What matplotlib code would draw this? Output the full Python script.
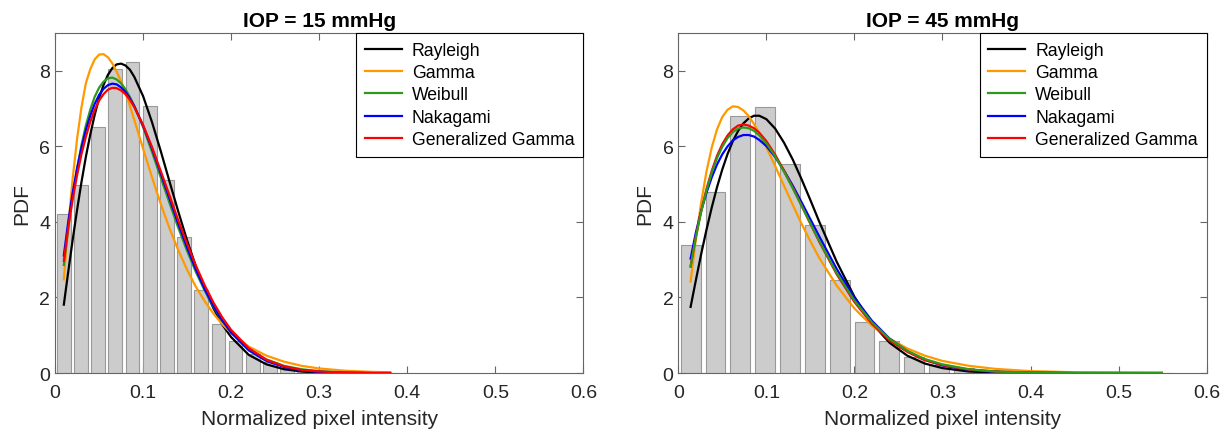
import numpy as np
import matplotlib
matplotlib.use("Agg")
import matplotlib.pyplot as plt

plt.rcParams['font.family'] = ['Liberation Sans', 'DejaVu Sans']

# ---------------- data ----------------
names = ['Rayleigh', 'Gamma', 'Weibull', 'Nakagami', 'Generalized Gamma']
titles = ['IOP = 15 mmHg', 'IOP = 45 mmHg']

# histogram bin centres and heights (PDF)
bin_width_15 = 0.0195
bin_centers_15 = [0.010, 0.0295, 0.049, 0.0685, 0.088, 0.1075, 0.127, 0.1465, 0.166, 0.1855,
                  0.205, 0.2245, 0.244, 0.2635, 0.283, 0.3025, 0.322, 0.3415, 0.361, 0.3805]
hist_15 = [4.20, 4.99, 6.52, 8.06, 8.24, 7.06, 5.10, 3.60, 2.20, 1.29,
           0.84, 0.50, 0.28, 0.13, 0.07, 0.04, 0.02, 0.01, 0.01, 0.005]

bin_width_45 = 0.0282
bin_centers_45 = [0.014, 0.0422, 0.0704, 0.0986, 0.1268, 0.155, 0.1832, 0.2114, 0.2396, 0.2678,
                  0.296, 0.3242, 0.3524, 0.3806, 0.4088, 0.437, 0.4652, 0.4934, 0.5216, 0.5498]
hist_45 = [3.38, 4.79, 6.81, 7.05, 5.52, 3.91, 2.47, 1.34, 0.86, 0.42,
           0.22, 0.12, 0.07, 0.04, 0.03, 0.02, 0.01, 0.01, 0.005, 0.005]

# fitted PDF curves (sampled points)
x_15 = [0.010, 0.015, 0.02, 0.025, 0.03, 0.035, 0.04, 0.045, 0.05, 0.055, 0.06, 0.065, 0.07, 0.075,
        0.08, 0.085, 0.09, 0.1, 0.11, 0.12, 0.13, 0.14, 0.15, 0.16, 0.17, 0.18, 0.19, 0.2, 0.22,
        0.24, 0.26, 0.28, 0.3, 0.33, 0.36, 0.3805]
rayleigh_15 = [1.81, 2.68, 3.52, 4.31, 5.05, 5.72, 6.31, 6.83, 7.27, 7.62, 7.89, 8.07, 8.17, 8.19,
               8.14, 8.03, 7.84, 7.33, 6.65, 5.88, 5.07, 4.27, 3.51, 2.82, 2.22, 1.71, 1.28, 0.95,
               0.48, 0.23, 0.10, 0.04, 0.01, 0.00, 0.00, 0.00]
gamma_15 = [2.48, 3.89, 5.14, 6.19, 7.03, 7.67, 8.04, 8.30, 8.43, 8.44, 8.36, 8.20, 7.98, 7.72,
            7.42, 7.07, 6.70, 5.94, 5.19, 4.48, 3.83, 3.25, 2.73, 2.28, 1.90, 1.57, 1.29, 1.06,
            0.70, 0.46, 0.30, 0.19, 0.12, 0.06, 0.03, 0.02]
weibull_15 = [2.86, 3.83, 4.68, 5.41, 6.03, 6.55, 6.97, 7.31, 7.55, 7.71, 7.80, 7.82, 7.77, 7.67,
              7.51, 7.31, 7.07, 6.51, 5.86, 5.18, 4.50, 3.84, 3.23, 2.67, 2.18, 1.75, 1.38, 1.08,
              0.64, 0.36, 0.19, 0.10, 0.05, 0.01, 0.00, 0.00]
nakagami_15 = [3.11, 4.00, 4.76, 5.41, 5.96, 6.43, 6.81, 7.12, 7.36, 7.52, 7.62, 7.66, 7.64, 7.56,
               7.44, 7.27, 7.06, 6.55, 5.95, 5.29, 4.62, 3.95, 3.32, 2.74, 2.22, 1.77, 1.39, 1.07,
               0.60, 0.32, 0.16, 0.07, 0.03, 0.01, 0.00, 0.00]
gengamma_15 = [2.97, 3.85, 4.59, 5.23, 5.79, 6.25, 6.65, 6.96, 7.21, 7.38, 7.50, 7.55, 7.54, 7.48,
               7.38, 7.23, 7.04, 6.56, 5.99, 5.35, 4.70, 4.04, 3.42, 2.84, 2.32, 1.86, 1.47, 1.14,
               0.66, 0.35, 0.18, 0.08, 0.04, 0.01, 0.00, 0.00]

x_45 = [0.014, 0.02, 0.026, 0.032, 0.038, 0.044, 0.05, 0.056, 0.062, 0.068, 0.074, 0.08, 0.086,
        0.092, 0.1, 0.11, 0.12, 0.13, 0.14, 0.15, 0.16, 0.18, 0.2, 0.22, 0.24, 0.26, 0.28, 0.3,
        0.33, 0.36, 0.4, 0.45, 0.5, 0.549]
rayleigh_45 = [1.75, 2.46, 3.15, 3.79, 4.38, 4.92, 5.39, 5.80, 6.14, 6.41, 6.61, 6.74, 6.81, 6.81,
               6.72, 6.47, 6.10, 5.65, 5.13, 4.58, 4.01, 2.94, 2.02, 1.31, 0.80, 0.46, 0.25, 0.13,
               0.04, 0.01, 0.00, 0.00, 0.00, 0.00]
gamma_45 = [2.42, 3.54, 4.52, 5.33, 5.97, 6.45, 6.78, 6.97, 7.06, 7.04, 6.95, 6.80, 6.59, 6.35,
            5.98, 5.48, 4.96, 4.45, 3.95, 3.49, 3.05, 2.31, 1.71, 1.25, 0.91, 0.65, 0.46, 0.32,
            0.19, 0.11, 0.05, 0.02, 0.01, 0.00]
weibull_45 = [2.82, 3.60, 4.27, 4.83, 5.30, 5.69, 5.99, 6.22, 6.38, 6.47, 6.50, 6.48, 6.41, 6.29,
              6.08, 5.74, 5.33, 4.89, 4.43, 3.96, 3.50, 2.64, 1.92, 1.34, 0.90, 0.59, 0.37, 0.23,
              0.10, 0.04, 0.01, 0.00, 0.00, 0.00]
nakagami_45 = [3.03, 3.72, 4.29, 4.77, 5.18, 5.52, 5.79, 6.00, 6.16, 6.25, 6.30, 6.30, 6.26, 6.17,
               6.01, 5.72, 5.36, 4.96, 4.52, 4.07, 3.62, 2.75, 1.99, 1.38, 0.91, 0.58, 0.35, 0.20,
               0.08, 0.03, 0.01, 0.00, 0.00, 0.00]
gengamma_45 = [2.82, 3.62, 4.29, 4.87, 5.35, 5.75, 6.06, 6.29, 6.45, 6.55, 6.58, 6.55, 6.48, 6.36,
               6.14, 5.78, 5.36, 4.91, 4.43, 3.95, 3.48, 2.61, 1.88, 1.30, 0.86, 0.56, 0.34, 0.21,
               0.09, 0.04, 0.01, 0.00, 0.00, 0.00]

# ---------------- styling ----------------
colors = ['#000000', '#FF9900', '#2E9A1C', '#0000FF', '#FF0000']
zorders_15 = [3, 3, 3, 3, 3]
zorders_45 = [3, 3, 3.2, 3, 3.1]

panels = [
    dict(title=titles[0], centers=bin_centers_15, heights=hist_15, bw=bin_width_15, x=x_15,
         curves=[rayleigh_15, gamma_15, weibull_15, nakagami_15, gengamma_15], z=zorders_15,
         left=0.0447),
    dict(title=titles[1], centers=bin_centers_45, heights=hist_45, bw=bin_width_45, x=x_45,
         curves=[rayleigh_45, gamma_45, weibull_45, nakagami_45, gengamma_45], z=zorders_45,
         left=0.551),
]

fig = plt.figure(figsize=(12.31, 4.35), dpi=100)
for p in panels:
    ax = fig.add_axes([p['left'], 0.1402, 0.4292, 0.7816])
    ax.bar(p['centers'], p['heights'], width=0.8 * p['bw'], color='#CCCCCC',
           edgecolor='#999999', linewidth=0.8, zorder=2)
    for name, col, y, z in zip(names, colors, p['curves'], p['z']):
        ax.plot(p['x'], y, color=col, lw=1.6, label=name, zorder=z)
    ax.set_xlim(0, 0.6)
    ax.set_ylim(0, 9)
    ax.set_xticks([0, 0.1, 0.2, 0.3, 0.4, 0.5, 0.6])
    ax.set_xticklabels(['0', '0.1', '0.2', '0.3', '0.4', '0.5', '0.6'])
    ax.set_yticks([0, 2, 4, 6, 8])
    ax.tick_params(direction='in', length=5, width=0.8, color='#666666', labelsize=14,
                   labelcolor='#262626', top=True, right=True)
    ax.tick_params(axis='x', pad=8)
    for s in ax.spines.values():
        s.set_color('#666666')
        s.set_linewidth(0.8)
    ax.set_title(p['title'], fontsize=15, fontweight='bold', pad=5)
    ax.set_xlabel('Normalized pixel intensity', fontsize=15, color='#262626', labelpad=6)
    ax.set_ylabel('PDF', fontsize=15, color='#262626', labelpad=6)
    lg = ax.legend(loc='upper right', borderaxespad=0, fontsize=12.7, fancybox=False,
                   framealpha=1, edgecolor='black', handlelength=2.1, handletextpad=0.55,
                   labelspacing=0.3, borderpad=0.5)
    lg.get_frame().set_linewidth(0.8)
    lg.set_zorder(5)

fig.savefig('out.png', dpi=100)
